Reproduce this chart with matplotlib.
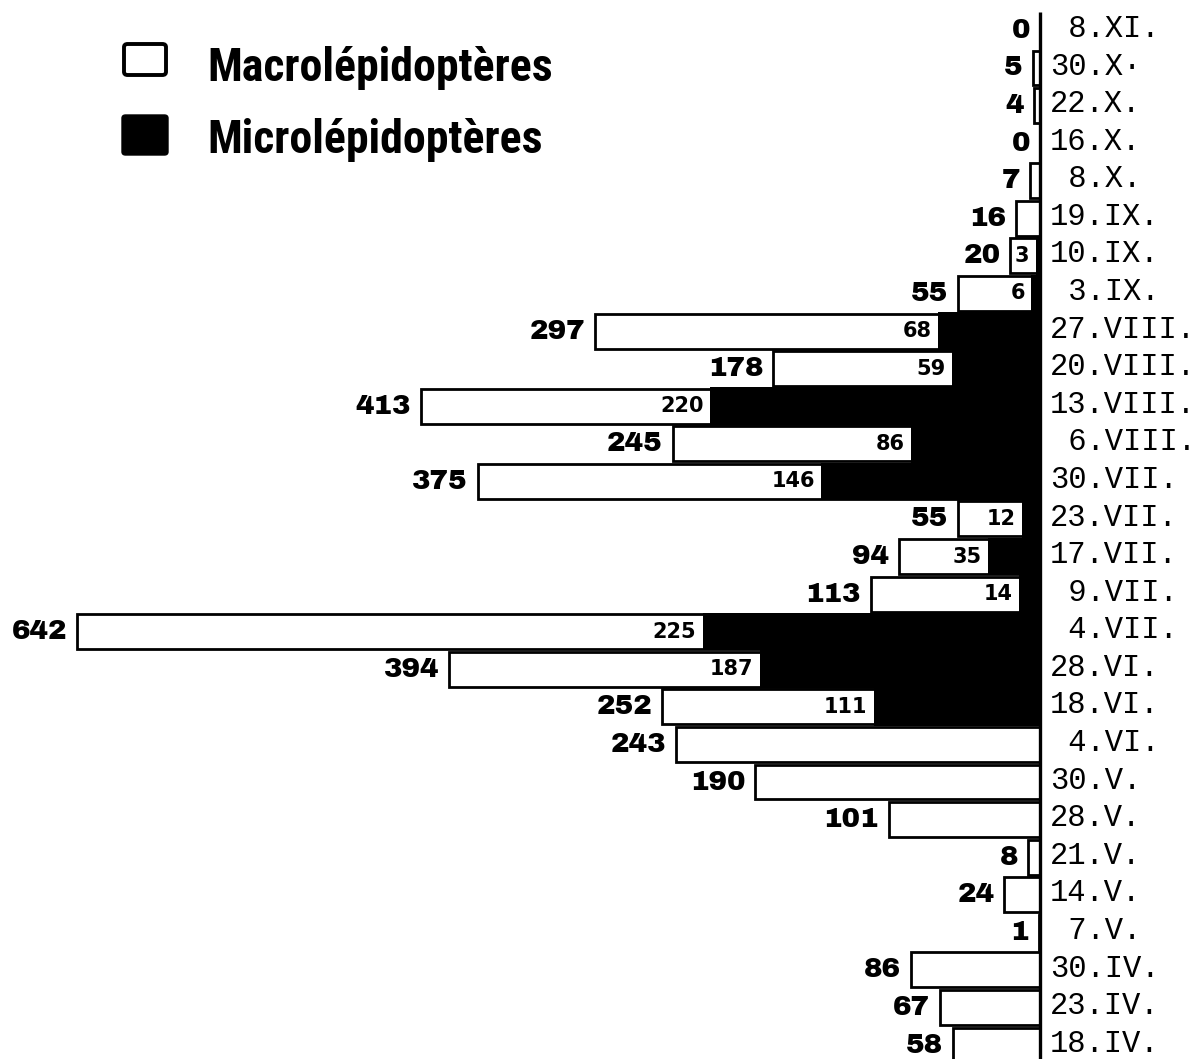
import matplotlib
matplotlib.use("Agg")
import matplotlib.pyplot as plt
from matplotlib.patches import FancyBboxPatch

# ---- data (top row first) ----
dates = ['8.XI.', '30.X·', '22.X.', '16.X.', '8.X.', '19.IX.', '10.IX.', '3.IX.',
         '27.VIII.', '20.VIII.', '13.VIII.', '6.VIII.', '30.VII.', '23.VII.',
         '17.VII.', '9.VII.', '4.VII.', '28.VI.', '18.VI.', '4.VI.', '30.V.',
         '28.V.', '21.V.', '14.V.', '7.V.', '30.IV.', '23.IV.', '18.IV.']
macro = [0, 5, 4, 0, 7, 16, 20, 55, 297, 178, 413, 245, 375, 55, 94, 113,
         642, 394, 252, 243, 190, 101, 8, 24, 1, 86, 67, 58]
micro = [0, 0, 0, 0, 0, 0, 3, 6, 68, 59, 220, 86, 146, 12, 35, 14,
         225, 187, 111, 0, 0, 0, 0, 0, 0, 0, 0, 0]
legend_labels = ['Macrolépidoptères', 'Microlépidoptères']

W, H = 1202, 1059
fig = plt.figure(figsize=(W / 100, H / 100), dpi=100)
ax = fig.add_axes([0, 0, 1, 1])
ax.axis('off')

px_per_unit = 1.5
axis_px = 1040
ax.set_xlim(axis_px / px_per_unit, -(W - axis_px) / px_per_unit)
row0, step = 30.4, 37.58
ax.set_ylim((H - row0) / step, -row0 / step)

ys = list(range(len(dates)))
ax.barh(ys, macro, height=0.93, color='white', edgecolor='black',
        linewidth=2.0, zorder=2)
ax.barh(ys, micro, height=1.0, color='black', edgecolor='none', zorder=3)
ax.plot([0, 0], [-0.49, (H - row0) / step + 1], color='black', lw=2.4,
        zorder=5, solid_capstyle='butt')

for y, m, mi, d in zip(ys, macro, micro, dates):
    ax.annotate(str(m), (m, y), xytext=(-7, 0), textcoords='offset points',
                ha='right', va='center', fontsize=20,
                family=['Archivo Black', 'DejaVu Sans'], fontweight='bold', zorder=6)
    if mi > 0:
        ax.annotate(str(mi), (mi, y), xytext=(-4.5, 0), textcoords='offset points',
                    ha='right', va='center', fontsize=15, fontweight='bold',
                    family=['DejaVu Sans'], zorder=6)
    day = d.split('.')[0]
    txt = (' ' + d) if len(day) == 1 else d
    ax.annotate(txt, (0, y), xytext=(7.2, 1), textcoords='offset points',
                ha='left', va='center', fontsize=22,
                family=['Liberation Mono', 'DejaVu Sans Mono'], zorder=6)

# ---- legend ----
def fx(px):
    return px / W

def fy(py):
    return 1 - py / H

wbox = FancyBboxPatch((fx(124), fy(75)), fx(166) - fx(124), fy(44) - fy(75),
                      boxstyle='round,pad=0,rounding_size=0.003',
                      transform=fig.transFigure, facecolor='white',
                      edgecolor='black', linewidth=2.8)
bbox = FancyBboxPatch((fx(122), fy(155)), fx(168) - fx(122), fy(115) - fy(155),
                      boxstyle='round,pad=0,rounding_size=0.003',
                      transform=fig.transFigure, facecolor='black',
                      edgecolor='black', linewidth=1)
fig.patches.extend([wbox, bbox])
for lab, yb in zip(legend_labels, [81, 153]):
    fig.text(fx(207), fy(yb), lab, ha='left', va='baseline',
             fontsize=33, fontweight='bold',
             family=['Roboto Condensed', 'Liberation Sans Narrow', 'DejaVu Sans'])

fig.savefig('out.png', dpi=100, facecolor='white')
